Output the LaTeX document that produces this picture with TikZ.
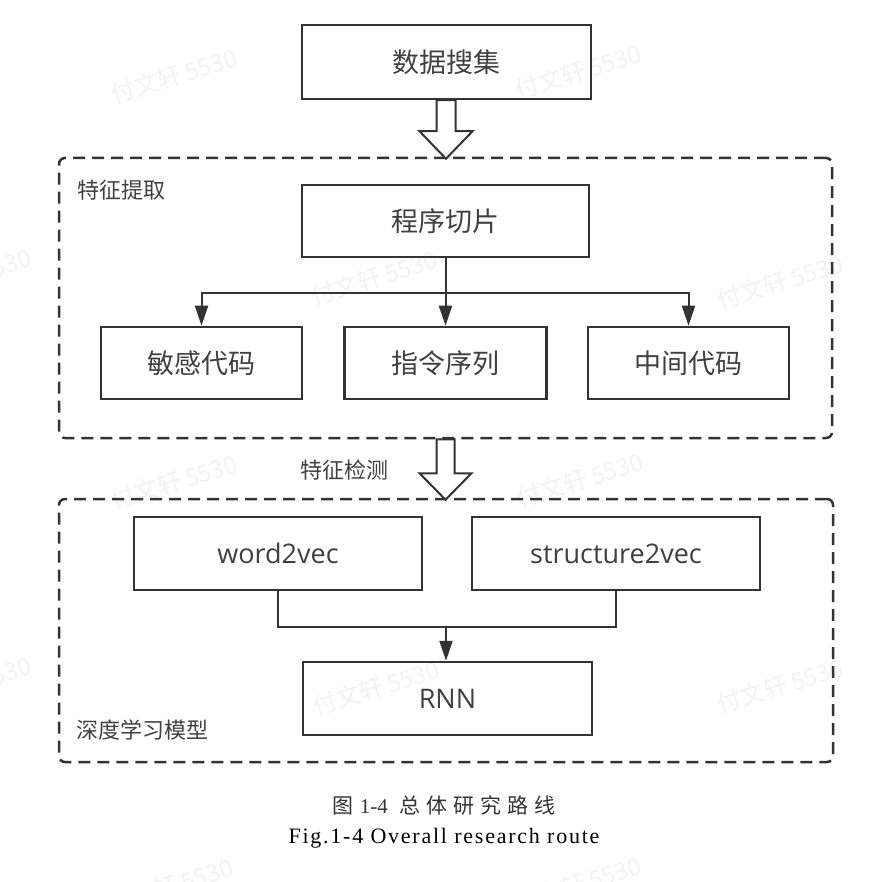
\documentclass[tikz,border=0pt]{standalone}
\usepackage{fontspec}
\setmainfont{Open Sans}
\newfontfamily\cjk{Noto Sans CJK SC}
\newfontfamily\cjkcap[LetterSpace=28]{Noto Sans CJK SC}
\newfontfamily\serifen{Liberation Serif}
\newfontfamily\serifcap[LetterSpace=8]{Liberation Serif}
\usetikzlibrary{arrows.meta}
\definecolor{ink}{HTML}{333333}
\definecolor{txt}{HTML}{404040}
\definecolor{wm}{HTML}{F2F2F2}
\begin{document}
\begin{tikzpicture}[x=1pt,y=-1pt,
  box/.style={draw=ink,line width=2.5pt,inner sep=0pt,text=txt,
    font=\cjk\fontsize{27}{30}\selectfont},
  latinbox/.style={box,font=\fontsize{27}{30}\selectfont},
  frame/.style={draw=ink,line width=2.5pt,dash pattern=on 12pt off 7pt,
    rounded corners=6pt,inner sep=0pt},
  lab/.style={text=txt,inner sep=0pt,font=\cjk\fontsize{22}{26}\selectfont},
  conn/.style={draw=ink,line width=2pt},
  arr/.style={conn,-{Triangle[length=20pt,width=13pt]}},
  hollow/.style={draw=ink,line width=2pt,fill=white,line join=miter},
  wmark/.style={text=wm,rotate=17,inner sep=0pt,font=\cjk\fontsize{24}{26}\selectfont}]
\useasboundingbox (0,0) rectangle (888,882);

% watermarks
\foreach \px/\py [count=\i] in {174/76,578/72,-32/276,374/278,780/282,174/482,580/480,-32/684,376/688,780/686,170/886,578/884}{
  \node[wmark] (wm\i) at (\px,\py) {付文轩 5530};
}

% top box
\node[box,minimum width=289pt,minimum height=74pt] (collect) at (446.5,62) {数据搜集};

% frame 1
\node[frame,minimum width=773pt,minimum height=280pt] (fe) at (445.5,298) {};
\node[lab,anchor=west] (lfe) at (77,190) {特征提取};
\node[box,minimum width=287pt,minimum height=72pt] (slice) at (445.5,221) {程序切片};
\node[box,minimum width=201pt,minimum height=72pt] (sens) at (201.5,363) {敏感代码};
\node[box,minimum width=202pt,minimum height=72pt] (instr) at (445.5,363) {指令序列};
\node[box,minimum width=201pt,minimum height=72pt] (mid) at (688.5,363) {中间代码};
\coordinate (br) at (445.5,293);
\draw[conn] (slice.south) -- (br);
\draw[arr] (br) -- (instr.north);
\draw[arr] (br) -| (sens.north);
\draw[arr] (br) -| (mid.north);

% hollow arrow 1
\draw[hollow] (collect.south) ++(-10,0) -- ++(0,31) -- ++(-17,0) -- ++(26.5,27.5)
  -- ++(26.5,-27.5) -- ++(-17,0) -- ++(0,-31) -- cycle;

% hollow arrow 2
\draw[hollow] (fe.south) ++(-9,0) -- ++(0,34) -- ++(-17,0) -- ++(26,26.5)
  -- ++(26,-26.5) -- ++(-17,0) -- ++(0,-34) -- cycle;
\node[lab] (ldet) at (344.5,470) {特征检测};

% frame 2
\node[frame,minimum width=774pt,minimum height=263pt] (dl) at (446,630.5) {};
\node[lab,anchor=west] (ldl) at (76,730) {深度学习模型};
\node[latinbox,minimum width=288pt,minimum height=73pt] (w2v) at (278,553.5) {word2vec};
\node[latinbox,minimum width=288pt,minimum height=73pt] (s2v) at (616,553.5) {structure2vec};
\node[latinbox,minimum width=289pt,minimum height=73pt] (rnn) at (447.5,698.5) {RNN};
\coordinate (mg) at (446,627);
\draw[conn] (w2v.south) |- (mg) -| (s2v.south);
\draw[arr] (mg) -- (mg |- rnn.north);

% caption
\node[inner sep=0pt,text=ink,font=\fontsize{21}{24}\selectfont] (cap1) at (444,805)
  {\cjkcap 图\hspace{6pt}{\serifen 1-4}\hspace{12pt}总体研究路线};
\node[inner sep=0pt,text=black,font=\serifcap\fontsize{22}{26}\selectfont] (cap2) at (444,838)
  {Fig.1-4 Overall research route};
\end{tikzpicture}
\end{document}
